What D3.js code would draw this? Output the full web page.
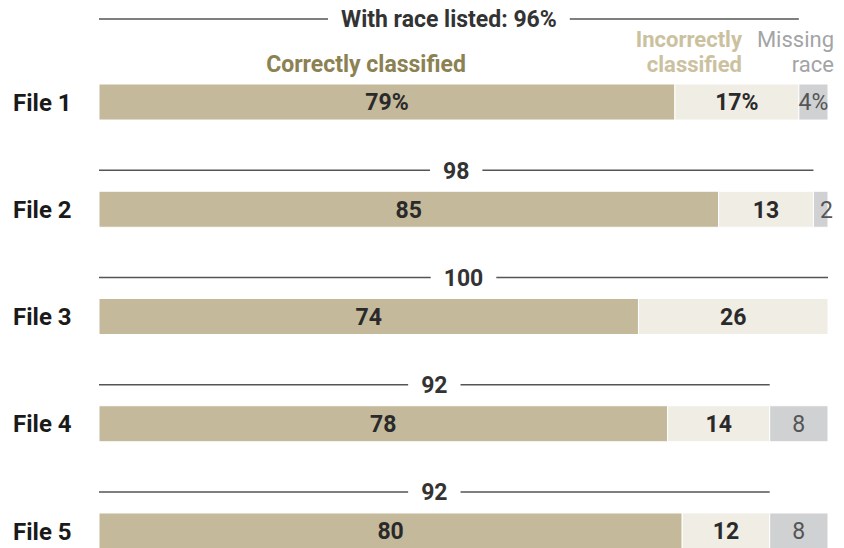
<!DOCTYPE html>
<meta charset="utf-8">
<style>
body { margin: 0; background: #fff; }
text { font-family: Roboto, "Liberation Sans", sans-serif; }
.rowlab { font-weight: bold; font-size: 24px; fill: #1a1a1a; }
.val { font-size: 23px; }
.bracket line { stroke: #555; stroke-width: 1.5px; }
</style>
<body>
<script src="https://d3js.org/d3.v7.min.js"></script>
<script>

// data
var files = ["File 1", "File 2", "File 3", "File 4", "File 5"];
var correct = [79, 85, 74, 78, 80];
var incorrect = [17, 13, 26, 14, 12];
var missing = [4, 2, 0, 8, 8];
var listed = [96, 98, 100, 92, 92];
var listedLabels = ["With race listed: 96%", "98", "100", "92", "92"];
var suffix = ["%", "", "", "", ""];

var width = 844, height = 548;

var svg = d3.select("body").append("svg")
    .attr("width", width)
    .attr("height", height);

var x = d3.scaleLinear().domain([0, 100]).range([99, 828]);
var y = d3.scaleBand().domain(files).range([84, 549]).paddingInner(0.664).paddingOuter(0);

var colors = ["#c4b99a", "#efede4", "#d0d1d3"];

var rows = files.map(function(f, i) {
  return { file: f, vals: [correct[i], incorrect[i], missing[i]], listed: listed[i], lab: listedLabels[i], suf: suffix[i] };
});

var g = svg.selectAll(".row")
  .data(rows)
  .enter().append("g")
    .attr("class", "row")
    .attr("transform", function(d) { return "translate(0," + y(d.file) + ")"; });

var bh = y.bandwidth();

// row labels
g.append("text")
  .attr("class", "rowlab")
  .attr("x", 13)
  .attr("y", bh / 2)
  .attr("dy", "0.36em")
  .text(function(d) { return d.file; });

// segments
g.each(function(d) {
  var start = 0;
  var segs = d.vals.map(function(v, k) {
    var s = { x0: start, x1: start + v, v: v, k: k };
    start += v;
    return s;
  }).filter(function(s) { return s.v > 0; });

  var sel = d3.select(this);
  sel.selectAll("rect")
    .data(segs)
    .enter().append("rect")
      .attr("x", function(s) { return x(s.x0); })
      .attr("width", function(s) { return x(s.x1) - x(s.x0); })
      .attr("y", 0)
      .attr("height", bh)
      .attr("fill", function(s) { return colors[s.k]; })
      .attr("stroke", "#fff")
      .attr("stroke-width", 1);

  sel.selectAll("text.val")
    .data(segs)
    .enter().append("text")
      .attr("class", "val")
      .attr("x", function(s) { return s.v < 3 ? x(s.x0) + 13 : (x(s.x0) + x(s.x1)) / 2; })
      .attr("y", bh / 2)
      .attr("dy", "0.36em")
      .attr("text-anchor", "middle")
      .style("font-weight", function(s) { return s.k == 2 ? "normal" : "bold"; })
      .attr("fill", function(s) { return s.k == 2 ? "#555" : "#2a2a2a"; })
      .text(function(s) { return s.v + d.suf; });

  // bracket showing share with race listed
  var by = d.file == "File 1" ? -65 : -21;
  var x0 = x(0), x1 = x(d.listed), cx = (x0 + x1) / 2;
  var t = sel.append("text")
    .attr("x", cx)
    .attr("y", by)
    .attr("dy", "0.36em")
    .attr("text-anchor", "middle")
    .style("font-weight", "bold")
    .style("font-size", "23px")
    .attr("fill", "#333")
    .text(d.lab);
  var tw = t.node().getComputedTextLength();
  var br = sel.append("g").attr("class", "bracket");
  br.append("line").attr("x1", x0).attr("x2", cx - tw / 2 - 13).attr("y1", by).attr("y2", by);
  br.append("line").attr("x1", cx + tw / 2 + 13).attr("x2", x1).attr("y1", by).attr("y2", by);
});

// legend
var topY = y("File 1");
svg.append("text")
  .attr("x", 366).attr("y", topY - 12)
  .attr("text-anchor", "middle")
  .style("font-weight", "bold").style("font-size", "23px")
  .attr("fill", "#8c8152")
  .text("Correctly classified");

var inc = svg.append("text")
  .attr("x", 742).attr("y", topY - 37)
  .attr("text-anchor", "end")
  .style("font-weight", "bold").style("font-size", "22px")
  .attr("fill", "#cbc19f");
inc.append("tspan").attr("x", 742).text("Incorrectly");
inc.append("tspan").attr("x", 742).attr("dy", 25).text("classified");

var mis = svg.append("text")
  .attr("x", 834).attr("y", topY - 37)
  .attr("text-anchor", "end")
  .style("font-size", "22px")
  .attr("fill", "#a3a4a6");
mis.append("tspan").attr("x", 834).text("Missing");
mis.append("tspan").attr("x", 834).attr("dy", 25).text("race");

</script>
</body>
